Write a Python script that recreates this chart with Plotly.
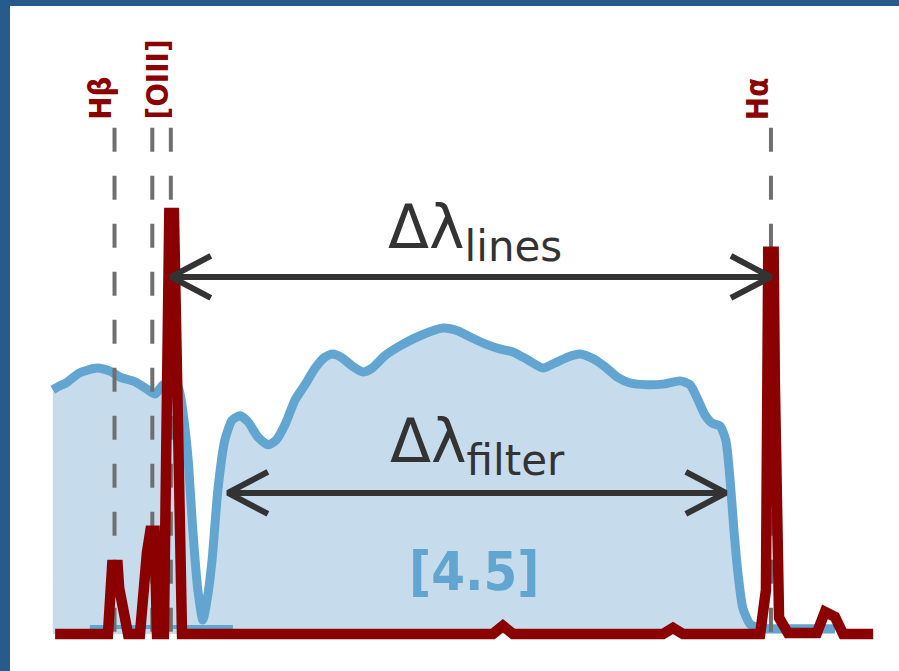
import plotly.graph_objects as go

# ---------------- data (rest wavelength in Angstrom, normalised flux) ----------------
filter_wave = [4701, 4714, 4735, 4771, 4816, 4849, 4875, 4914, 4948, 4966, 4987, 5005,
               5026, 5041, 5052, 5064, 5077, 5090, 5103, 5114, 5129, 5147, 5166, 5186,
               5207, 5233, 5259, 5280, 5303, 5329, 5355, 5381, 5407, 5427, 5451, 5477,
               5505, 5529, 5562, 5601, 5653, 5713, 5752, 5783, 5822, 5860, 5894, 5933,
               5972, 6003, 6037, 6068, 6102, 6133, 6164, 6198, 6242, 6288, 6327, 6353,
               6374, 6392, 6410, 6431, 6446, 6457, 6467, 6478, 6490, 6509, 6535, 6638, 6729]
filter_trans = [0.573, 0.580, 0.589, 0.613, 0.624, 0.617, 0.603, 0.592, 0.573, 0.563, 0.585, 0.589,
                0.580, 0.502, 0.408, 0.244, 0.103, 0.033, 0.092, 0.174, 0.338, 0.455, 0.502, 0.512,
                0.498, 0.462, 0.444, 0.455, 0.491, 0.549, 0.585, 0.624, 0.650, 0.657, 0.648, 0.629,
                0.615, 0.624, 0.653, 0.676, 0.700, 0.718, 0.711, 0.697, 0.681, 0.669, 0.662, 0.643,
                0.624, 0.636, 0.650, 0.657, 0.646, 0.627, 0.603, 0.589, 0.585, 0.587, 0.594, 0.585,
                0.549, 0.514, 0.495, 0.488, 0.455, 0.362, 0.244, 0.138, 0.061, 0.023, 0.014, 0.012, 0.012]

filter_floor_wave = [4797, 5168]
filter_floor_trans = [0.016, 0.016]

spec_wave = [4707, 4844, 4855, 4869, 4873, 4896, 4927, 4945, 4954, 4965, 4971, 4989,
             5003, 5015, 5036, 5842, 5868, 5894, 6283, 6309, 6335, 6535, 6550, 6556,
             6570, 6573, 6584, 6607, 6682, 6703, 6729, 6750, 6828]
spec_flux = [0.0, 0.0, 0.162, 0.162, 0.108, 0.0, 0.0, 0.190, 0.242, 0.242, 0.0, 0.0,
             0.988, 0.988, 0.0, 0.0, 0.019, 0.0, 0.0, 0.014, 0.0, 0.0, 0.103, 0.897,
             0.897, 0.596, 0.038, 0.002, 0.002, 0.052, 0.040, 0.0, 0.0]

line_names = ["Hβ", "[OIII]", "[OIII]", "Hα"]
line_wave = [4861, 4959, 5007, 6563]
label_text = ["Hβ", "[OIII]", "Hα"]
label_wave = [4861, 5007, 6563]
marker_top = 1.188          # top of dashed line markers
label_base = 1.214          # bottom end of rotated labels

lines_arrow = [5007, 6563]
lines_arrow_y = 0.838
filter_edges = [5155, 6446]
filter_arrow_y = 0.331
filter_name = "[4.5]"

# ---------------- styling / layout ----------------
W, H = 899, 671
ML, MT = 10, 6
X_RANGE = [4590, 6895]
Y_RANGE = [-0.087, 1.474]
px_per_x = (W - ML) / (X_RANGE[1] - X_RANGE[0])
px_per_y = (H - MT) / (Y_RANGE[1] - Y_RANGE[0])

RED = "#8b0000"
BLUE = "#62a5d1"
FILL = "#c6dced"
GREY = "#6f6f6f"
DARK = "#333333"
FRAME = "#275b8d"

HEAD_DX, HEAD_DY = 40 / px_per_x, 21 / px_per_y

fig = go.Figure()

# filter transmission
fig.add_trace(go.Scatter(x=filter_wave, y=filter_trans, mode="lines", fill="tozeroy",
                         fillcolor=FILL, line=dict(color=BLUE, width=9, shape="spline", smoothing=0.6),
                         hoverinfo="skip"))
fig.add_trace(go.Scatter(x=filter_floor_wave, y=filter_floor_trans, mode="lines",
                         line=dict(color=BLUE, width=4), hoverinfo="skip"))

# dashed line markers
for w in line_wave:
    fig.add_trace(go.Scatter(x=[w, w], y=[marker_top, 0], mode="lines",
                             line=dict(color=GREY, width=4, dash="24px,24px"), hoverinfo="skip"))

# emission spectrum
fig.add_trace(go.Scatter(x=spec_wave, y=spec_flux, mode="lines",
                         line=dict(color=RED, width=10.5, simplify=False), hoverinfo="skip"))


def arrow(x0, x1, y):
    xs = [x0 + HEAD_DX, x0, x0 + HEAD_DX, None, x0, x1, None, x1 - HEAD_DX, x1, x1 - HEAD_DX]
    ys = [y + HEAD_DY, y, y - HEAD_DY, None, y, y, None, y + HEAD_DY, y, y - HEAD_DY]
    return go.Scatter(x=xs, y=ys, mode="lines", line=dict(color=DARK, width=6),
                      hoverinfo="skip")


fig.add_trace(arrow(lines_arrow[0], lines_arrow[1], lines_arrow_y))
fig.add_trace(arrow(filter_edges[0], filter_edges[1], filter_arrow_y))

LABEL_FONT = "DejaVu Sans Condensed, Liberation Sans Narrow, DejaVu Sans"
for t, w in zip(label_text, label_wave):
    fig.add_annotation(x=w, y=label_base, text="<b>%s</b>" % t, textangle=-90,
                       showarrow=False, xanchor="right", yanchor="bottom", xshift=6, yshift=-5,
                       font=dict(family=LABEL_FONT, size=31, color=RED))

fig.add_annotation(x=sum(lines_arrow) / 2, y=lines_arrow_y, text="Δλ<sub>lines</sub>",
                   showarrow=False, xanchor="center", yanchor="bottom", xshift=4, yshift=4,
                   font=dict(family="DejaVu Sans", size=60, color=DARK))
fig.add_annotation(x=sum(filter_edges) / 2, y=filter_arrow_y, text="Δλ<sub>filter</sub>",
                   showarrow=False, xanchor="center", yanchor="bottom", xshift=1, yshift=6,
                   font=dict(family="DejaVu Sans", size=60, color=DARK))
fig.add_annotation(x=sum(filter_edges) / 2, y=filter_arrow_y, text="<b>%s</b>" % filter_name,
                   showarrow=False, xanchor="center", yanchor="top", xshift=-3, yshift=-45,
                   font=dict(family=LABEL_FONT, size=54, color=BLUE))

fig.update_xaxes(range=X_RANGE, visible=False, showgrid=False, zeroline=False)
fig.update_yaxes(range=Y_RANGE, visible=False, showgrid=False, zeroline=False)
fig.update_layout(width=W, height=H, margin=dict(l=ML, t=MT, r=0, b=0, pad=0),
                  paper_bgcolor=FRAME, plot_bgcolor="white", showlegend=False,
                  hovermode=False)

fig.write_html("out.html", config={"displayModeBar": False})
